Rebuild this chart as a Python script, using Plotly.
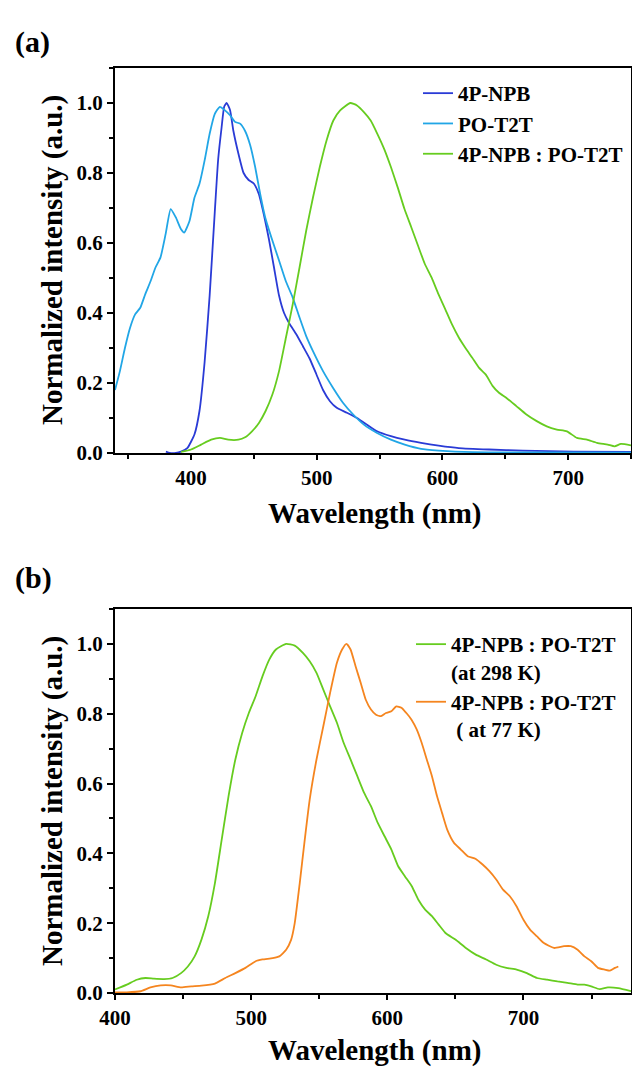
import plotly.graph_objects as go

# ---------------- Panel (a) data ----------------
wl_npb = [380, 383, 388, 392, 397, 402.7, 406.7, 410.8, 414.8, 418.9, 421.6, 424.3, 426.4, 428.3,
          431, 433.7, 437.7, 441.8, 445.8, 449.9, 453.9, 458, 462, 466, 470, 474, 478.2, 483.6,
          489, 494.3, 499.7, 505, 510.5, 515.9, 524, 532, 540, 548, 559, 570, 583, 597, 613,
          637, 664, 704.6, 750]
int_npb = [0.004, 0.0, 0.0, 0.004, 0.014, 0.053, 0.12, 0.26, 0.45, 0.69, 0.84, 0.93, 0.99, 1.0,
           0.98, 0.92, 0.855, 0.80, 0.78, 0.77, 0.74, 0.68, 0.61, 0.53, 0.45, 0.40, 0.37, 0.34,
           0.305, 0.27, 0.225, 0.18, 0.148, 0.129, 0.115, 0.10, 0.081, 0.062, 0.048, 0.038,
           0.029, 0.021, 0.014, 0.01, 0.007, 0.004, 0.003]

wl_pot2t = [339.5, 343.4, 347.4, 351.5, 355.5, 359.6, 363.6, 367.7, 371.7, 375.7, 379.8, 383.8,
            387.9, 391.9, 394.6, 398.7, 402.7, 406.7, 410.8, 414.8, 418.9, 422.9, 427, 431, 435,
            439, 443, 447, 451, 455, 459, 464.7, 470, 475.5, 480.9, 486.3, 491.6, 497, 505, 513,
            521, 529, 537.5, 548, 559, 570, 583, 597, 610, 637, 750]
int_pot2t = [0.18, 0.234, 0.30, 0.358, 0.396, 0.415, 0.454, 0.49, 0.53, 0.559, 0.626, 0.697,
             0.673, 0.64, 0.63, 0.662, 0.729, 0.769, 0.836, 0.912, 0.969, 0.989, 0.979, 0.965,
             0.946, 0.941, 0.92, 0.88, 0.817, 0.74, 0.673, 0.607, 0.55, 0.49, 0.444, 0.387, 0.334,
             0.291, 0.234, 0.186, 0.143, 0.11, 0.081, 0.057, 0.038, 0.024, 0.012, 0.007, 0.004,
             0.002, 0.001]

wl_blend = [392, 400, 408, 416, 423, 429.6, 437.7, 443, 448.5, 454, 459.3, 464.7, 470, 475.5,
            480.9, 486.3, 491.6, 497, 502.4, 507.8, 513.2, 518.6, 526.7, 532, 537.5, 542.9, 548.2,
            553.6, 559, 564.4, 569.8, 575.2, 580.6, 586, 591.4, 596.8, 602.2, 607.5, 613, 618.3,
            623.7, 629, 634.5, 640, 645, 650.7, 658.8, 666.8, 675, 683, 691, 699, 707, 715, 723,
            731.5, 737, 742, 750]
int_blend = [0.003, 0.01, 0.024, 0.038, 0.043, 0.038, 0.038, 0.045, 0.062, 0.086, 0.12, 0.167,
             0.234, 0.33, 0.425, 0.53, 0.635, 0.73, 0.817, 0.893, 0.95, 0.979, 1.0, 0.993, 0.974,
             0.95, 0.912, 0.869, 0.817, 0.759, 0.697, 0.645, 0.592, 0.54, 0.501, 0.454, 0.411,
             0.368, 0.33, 0.30, 0.272, 0.244, 0.224, 0.191, 0.172, 0.158, 0.134, 0.11, 0.091,
             0.076, 0.067, 0.062, 0.043, 0.038, 0.029, 0.024, 0.019, 0.026, 0.022]

# ---------------- Panel (b) data ----------------
wl_298 = [400, 408.7, 416, 422.4, 428.6, 436, 442.3, 448.5, 453.5, 458.5, 463.5, 468.5, 473.4,
          478.4, 483.4, 488.4, 493.4, 498.3, 503.3, 508.3, 513.3, 518.2, 525.7, 532, 538, 543,
          548, 553, 558, 563, 568, 573, 578, 583, 588, 593, 598, 603, 608, 613, 618, 622.8, 627.8,
          632.8, 637.7, 642.7, 650, 657.7, 665, 672.6, 680, 687.5, 695, 702.5, 710, 717.4, 725,
          732.3, 739.8, 744.8, 749.8, 756, 762, 769.7, 779]
int_298 = [0.01, 0.024, 0.038, 0.043, 0.041, 0.04, 0.043, 0.057, 0.076, 0.105, 0.153, 0.22, 0.315,
           0.44, 0.564, 0.669, 0.745, 0.802, 0.85, 0.907, 0.955, 0.984, 1.0, 0.995, 0.974, 0.95,
           0.917, 0.869, 0.821, 0.774, 0.716, 0.669, 0.621, 0.573, 0.535, 0.487, 0.449, 0.411,
           0.363, 0.334, 0.306, 0.267, 0.239, 0.22, 0.196, 0.172, 0.153, 0.129, 0.11, 0.096,
           0.081, 0.072, 0.067, 0.057, 0.043, 0.038, 0.033, 0.029, 0.024, 0.024, 0.019, 0.011,
           0.016, 0.014, 0.005]

wl_77 = [400, 408.7, 418.7, 426, 433.6, 441, 448.5, 456, 463.5, 473.4, 481, 488.4, 495.8, 503.3,
         508.3, 515.8, 520.7, 525.7, 529.4, 532, 535.7, 539.4, 543, 548, 553, 558, 563, 566.8,
         570, 573, 576.7, 580.5, 584.2, 588, 591.7, 595.4, 599, 603, 606.6, 610.4, 614, 617.8,
         621.6, 625.3, 629, 632.8, 636.5, 640.2, 644, 649, 654, 659, 665, 670, 675, 680, 685,
         690, 695, 700, 705, 710, 715, 722.4, 729.8, 734.8, 739.8, 744.8, 749.8, 754.7, 759.7,
         763.5, 767.2, 769.7]
int_77 = [0.002, 0.002, 0.005, 0.016, 0.022, 0.022, 0.016, 0.019, 0.021, 0.027, 0.043, 0.057,
          0.072, 0.091, 0.096, 0.10, 0.105, 0.124, 0.153, 0.20, 0.315, 0.44, 0.554, 0.669, 0.764,
          0.86, 0.946, 0.984, 1.0, 0.984, 0.936, 0.888, 0.84, 0.812, 0.797, 0.793, 0.802, 0.807,
          0.821, 0.817, 0.802, 0.783, 0.755, 0.716, 0.669, 0.621, 0.564, 0.516, 0.468, 0.43,
          0.411, 0.392, 0.384, 0.368, 0.349, 0.325, 0.296, 0.277, 0.248, 0.21, 0.181, 0.162,
          0.143, 0.129, 0.134, 0.134, 0.124, 0.105, 0.091, 0.072, 0.067, 0.064, 0.072, 0.076]

x_ticks_a = [400, 500, 600, 700]
x_ticks_b = [400, 500, 600, 700]
y_ticks = [0.0, 0.2, 0.4, 0.6, 0.8, 1.0]

C_NPB = "#2a3bd6"
C_POT = "#21a6e6"
C_GREEN = "#66cc1f"
C_ORANGE = "#f5851f"

FONT = "Liberation Serif"
W, H = 632, 1070

def px_x(p):
    return p / W

def px_y(p):
    return 1 - p / H

fig = go.Figure()
line_kw = dict(width=1.8, shape="spline", smoothing=0.5)

fig.add_trace(go.Scatter(x=wl_npb, y=int_npb, mode="lines", name="4P-NPB",
                         line=dict(color=C_NPB, **line_kw), xaxis="x", yaxis="y", legend="legend"))
fig.add_trace(go.Scatter(x=wl_pot2t, y=int_pot2t, mode="lines", name="PO-T2T",
                         line=dict(color=C_POT, **line_kw), xaxis="x", yaxis="y", legend="legend"))
fig.add_trace(go.Scatter(x=wl_blend, y=int_blend, mode="lines", name="4P-NPB : PO-T2T",
                         line=dict(color=C_GREEN, **line_kw), xaxis="x", yaxis="y", legend="legend"))

fig.add_trace(go.Scatter(x=wl_298, y=int_298, mode="lines", name="4P-NPB : PO-T2T<br>(at 298 K)",
                         line=dict(color=C_GREEN, **line_kw), xaxis="x2", yaxis="y2", legend="legend2"))
fig.add_trace(go.Scatter(x=wl_77, y=int_77, mode="lines", name="4P-NPB : PO-T2T<br>\u00a0( at 77 K)",
                         line=dict(color=C_ORANGE, **line_kw), xaxis="x2", yaxis="y2", legend="legend2"))

tick_font = dict(family=FONT, size=21, color="black", weight="bold")

def xaxis_cfg(dom, rng, anchor, ticks):
    return dict(domain=dom, range=rng, anchor=anchor, showline=True, linecolor="black", linewidth=2,
                mirror=True, ticks="outside", ticklen=5, tickwidth=2, tickcolor="black",
                tickvals=ticks, tickfont=tick_font, showgrid=False, zeroline=False,
                minor=dict(dtick=50, tick0=0, ticks="outside", ticklen=4, tickwidth=2,
                           tickcolor="black", showgrid=False))

def yaxis_cfg(dom, anchor):
    return dict(domain=dom, range=[0, 1.1], anchor=anchor, showline=True, linecolor="black",
                linewidth=2, mirror=True, ticks="outside", ticklen=6, tickwidth=2,
                tickcolor="black", tickvals=y_ticks, tickformat=".1f", tickfont=tick_font,
                showgrid=False, zeroline=False,
                minor=dict(dtick=0.1, tick0=0, ticks="outside", ticklen=4, tickwidth=2,
                           tickcolor="black", showgrid=False))

xa_dom = [px_x(115), px_x(631)]
ya_dom = [px_y(453), px_y(68)]
yb_dom = [px_y(993), px_y(609)]

legend_font = dict(family=FONT, size=21, color="black", weight="bold")

title_font = dict(family=FONT, size=29, color="black", weight="bold")
annotations = [
    dict(text="(a)", x=px_x(13), y=px_y(42), xref="paper", yref="paper", xanchor="left",
         yanchor="middle", showarrow=False, font=dict(family=FONT, size=30, color="black", weight="bold")),
    dict(text="(b)", x=px_x(13), y=px_y(578), xref="paper", yref="paper", xanchor="left",
         yanchor="middle", showarrow=False, font=dict(family=FONT, size=30, color="black", weight="bold")),
    dict(text="Wavelength (nm)", x=px_x(374), y=px_y(513), xref="paper", yref="paper",
         xanchor="center", yanchor="middle", showarrow=False, font=title_font),
    dict(text="Wavelength (nm)", x=px_x(374), y=px_y(1050), xref="paper", yref="paper",
         xanchor="center", yanchor="middle", showarrow=False, font=title_font),
    dict(text="Normalized intensity (a.u.)", x=px_x(52), y=px_y(260), xref="paper", yref="paper",
         xanchor="center", yanchor="middle", textangle=-90, showarrow=False, font=title_font),
    dict(text="Normalized intensity (a.u.)", x=px_x(52), y=px_y(801), xref="paper", yref="paper",
         xanchor="center", yanchor="middle", textangle=-90, showarrow=False, font=title_font),
]

fig.update_layout(
    width=W, height=H, margin=dict(l=0, r=0, t=0, b=0, autoexpand=False),
    paper_bgcolor="white", plot_bgcolor="white",
    xaxis=xaxis_cfg(xa_dom, [339.5, 750], "y", x_ticks_a),
    yaxis=yaxis_cfg(ya_dom, "x"),
    xaxis2=xaxis_cfg(xa_dom, [400, 779], "y2", x_ticks_b),
    yaxis2=yaxis_cfg(yb_dom, "x2"),
    legend=dict(x=px_x(418), y=px_y(73), xanchor="left", yanchor="top", font=legend_font,
                bgcolor="rgba(0,0,0,0)", borderwidth=0, tracegroupgap=0, itemwidth=30),
    legend2=dict(x=px_x(411), y=px_y(624), xanchor="left", yanchor="top", font=legend_font,
                 bgcolor="rgba(0,0,0,0)", borderwidth=0, valign="top", itemwidth=30),
    annotations=annotations,
    showlegend=True,
)

fig.write_html(
    "out.html",
    config={"displayModeBar": False},
    post_script="document.body.style.margin='0';document.body.style.padding='0';"
                "document.body.style.overflow='hidden';",
)
